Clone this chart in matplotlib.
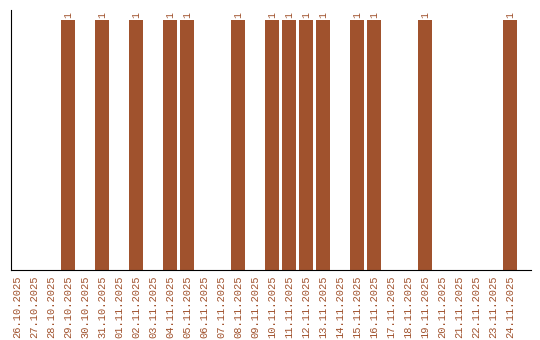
import matplotlib
matplotlib.use("Agg")
import matplotlib.pyplot as plt
import numpy as np

dates = ["26.10.2025", "27.10.2025", "28.10.2025", "29.10.2025", "30.10.2025",
         "31.10.2025", "01.11.2025", "02.11.2025", "03.11.2025", "04.11.2025",
         "05.11.2025", "06.11.2025", "07.11.2025", "08.11.2025", "09.11.2025",
         "10.11.2025", "11.11.2025", "12.11.2025", "13.11.2025", "14.11.2025",
         "15.11.2025", "16.11.2025", "17.11.2025", "18.11.2025", "19.11.2025",
         "20.11.2025", "21.11.2025", "22.11.2025", "23.11.2025", "24.11.2025"]
values = [0, 0, 0, 1, 0, 1, 0, 1, 0, 1, 1, 0, 0, 1, 0, 1, 1, 1, 1, 0, 1, 1, 0, 0, 1, 0, 0, 0, 0, 1]

color = "#A0522D"
fig = plt.figure(figsize=(5.4, 3.4), dpi=100)
ax = fig.add_axes([10.5/540, 70/340, 520/540, 260/340])
x = np.arange(len(dates))
ax.bar(x, values, width=0.82, color=color)
for xi, v in zip(x, values):
    if v:
        ax.text(xi, v + 0.01, str(v), rotation=90, ha="center", va="bottom",
                fontsize=7, color=color, family="Liberation Mono")
ax.set_xlim(-0.38, 30.2)
ax.set_ylim(0, 1.04)
ax.set_xticks(x)
ax.set_xticklabels(dates, rotation=90, fontsize=7.5, color=color, family="Liberation Mono")
ax.tick_params(axis="x", length=0, pad=4)
ax.set_yticks([])
ax.spines["top"].set_visible(False)
ax.spines["right"].set_visible(False)
fig.savefig("out.png", dpi=100)
